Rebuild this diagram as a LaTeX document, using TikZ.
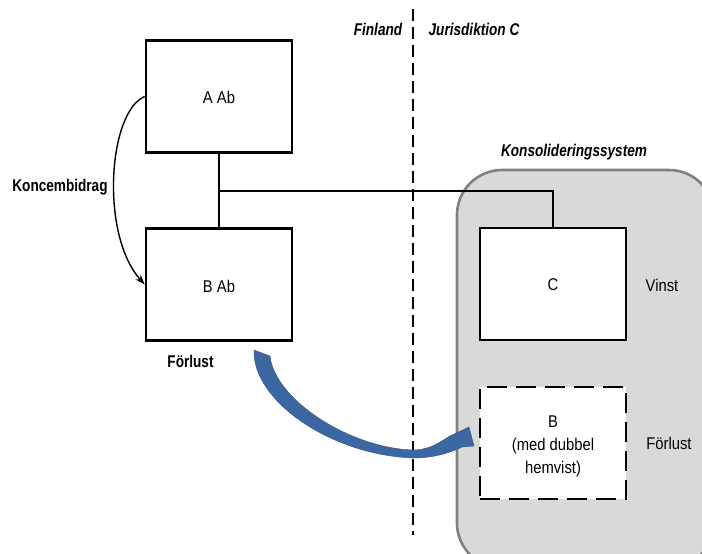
\documentclass[tikz,border=0pt]{standalone}
\usepackage{fontspec}
\setmainfont{Liberation Sans}
\newfontfamily\plainf[FakeStretch=0.87]{Liberation Sans}
\newfontfamily\heavyf[FakeStretch=0.8]{Liberation Sans}
\usetikzlibrary{arrows.meta}
\definecolor{regiongray}{HTML}{D9D9D9}
\definecolor{regionedge}{HTML}{808080}
\definecolor{lossblue}{HTML}{3D67A3}

\begin{document}
\begin{tikzpicture}[x=1pt,y=-1pt,
  entity/.style={draw=black, line width=2.6pt, fill=white,
    minimum width=146pt, minimum height=112pt, inner sep=0pt},
  dualres/.style={entity, dash pattern=on 20pt off 9pt},
  lbl/.style={font=\plainf\fontsize{17}{23}\selectfont, align=center, inner sep=0pt},
  boldlbl/.style={font=\heavyf\bfseries\fontsize{17}{20}\selectfont, inner sep=0pt},
  jurlbl/.style={font=\heavyf\bfseries\itshape\fontsize{17}{20}\selectfont, inner sep=0pt},
  link/.style={line width=1.4pt},
]
\useasboundingbox (0,0) rectangle (702,554);
\clip (0,0) rectangle (702,554);

% consolidation area
\draw[fill=regiongray, draw=regionedge, line width=2.6pt, rounded corners=45pt]
  (457,170) rectangle (714,568);

% border between the jurisdictions
\coordinate (bordertop) at (413,9);
\coordinate (borderbot) at (413,535);
\draw[line width=1.4pt, dash pattern=on 12pt off 6pt] (bordertop) -- (borderbot);

% companies
\node[entity] (A) at (219,96.5) {};
\node[entity] (B) at (219,284.5) {};
\node[entity] (C) at (553,284) {};
\node[dualres] (D) at (553,443) {};

% ownership lines
\coordinate (split) at (219,191);
\draw[link] (A.south) -- (B.north);
\draw[link] (split) -| (C.north);

% texts
\node[lbl] (tA) at (219,97) {A Ab};
\node[lbl] (tB) at (219,286) {B Ab};
\node[lbl] (tC) at (553,285) {C};
\node[lbl] (tD) at (553,446) {B\\(med dubbel\\hemvist)};
\node[lbl] (vinst) at (662,285.5) {Vinst};
\node[lbl] (loss2) at (669,443.5) {Förlust};
\node[boldlbl] (loss1) at (190.5,361) {Förlust};
\node[boldlbl] (kb) at (60,187) {Koncembidrag};
\node[jurlbl] (fin) at (378,29) {Finland};
\node[jurlbl] (jur) at (474,29) {Jurisdiktion C};
\node[jurlbl] (kons) at (574,152) {Konsolideringssystem};

% group contribution
\draw[line width=1.4pt, -{Stealth[length=10pt,width=7pt]}]
  (A.west) .. controls (108,112) and (100,235) .. (B.west);

% transfer of the loss
\fill[lossblue, draw=lossblue!80!black, line width=0.4pt]
  (254,350) .. controls (252,400) and (330,455) .. (413,458)
  .. controls (435,458) and (452,452) .. (462,447)
  -- (474,446) -- (469,427) -- (448,437)
  .. controls (435,446) and (425,450) .. (413,450)
  .. controls (350,448) and (275,400) .. (270,356) -- cycle;
\end{tikzpicture}
\end{document}
